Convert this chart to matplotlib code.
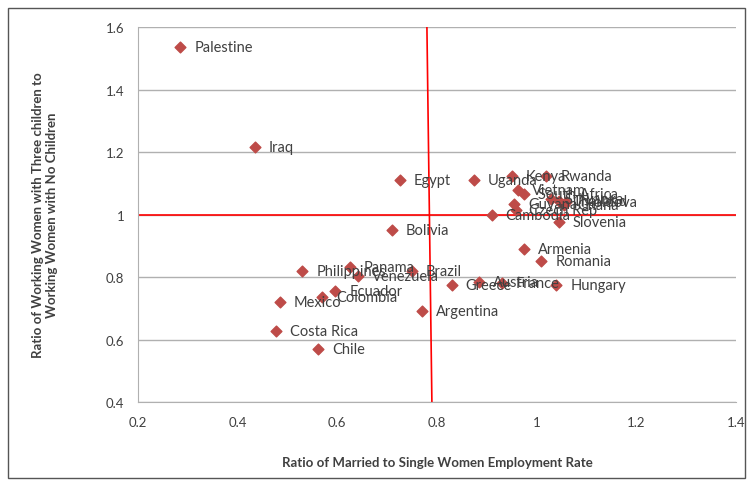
import matplotlib.pyplot as plt
from matplotlib.patches import Rectangle

plt.rcParams['font.family'] = ['Lato', 'DejaVu Sans']

# 国家及其数值
countries = ['Palestine', 'Iraq', 'Egypt', 'Uganda', 'Kenya', 'Rwanda', 'Vietnam',
             'South Africa', 'Sri Lanka', 'Thailand', 'Moldova', 'Guyana', 'Czech Rep',
             'Ghana', 'Cambodia', 'Slovenia', 'Bolivia', 'Armenia', 'Romania',
             'Philippines', 'Panama', 'Venezuela', 'Brazil', 'Greece', 'Austria',
             'France', 'Hungary', 'Ecuador', 'Colombia', 'Mexico', 'Argentina',
             'Costa Rica', 'Chile']
x_ratio = [0.285, 0.435, 0.725, 0.875, 0.95, 1.02, 0.962,
           0.975, 1.03, 1.045, 1.06, 0.955, 0.958,
           1.055, 0.91, 1.045, 0.71, 0.975, 1.01,
           0.53, 0.626, 0.642, 0.75, 0.83, 0.885,
           0.93, 1.04, 0.596, 0.57, 0.485, 0.77,
           0.477, 0.562]
y_ratio = [1.535, 1.215, 1.11, 1.11, 1.125, 1.125, 1.08,
           1.065, 1.05, 1.045, 1.04, 1.035, 1.015,
           1.03, 1.0, 0.975, 0.95, 0.89, 0.85,
           0.82, 0.832, 0.803, 0.82, 0.775, 0.785,
           0.78, 0.775, 0.755, 0.736, 0.72, 0.69,
           0.627, 0.57]

# 参考线
vline_x = [0.78, 0.79]
vline_y = [1.6, 0.4]
hline_y = 1.0

fig = plt.figure(figsize=(7.5, 4.85), dpi=100)
ax = fig.add_axes([0.184, 0.169, 0.797, 0.773])

# 外框
fig.patches.append(Rectangle((0.011, 0.012), 0.982, 0.97, transform=fig.transFigure,
                             fill=False, edgecolor='#555555', linewidth=1.0))

ax.set_xlim(0.2, 1.4)
ax.set_ylim(0.4, 1.6)
ax.set_xticks([0.2, 0.4, 0.6, 0.8, 1.0, 1.2, 1.4])
ax.set_xticklabels(['0.2', '0.4', '0.6', '0.8', '1', '1.2', '1.4'])
ax.set_yticks([0.4, 0.6, 0.8, 1.0, 1.2, 1.4, 1.6])
ax.set_yticklabels(['0.4', '0.6', '0.8', '1', '1.2', '1.4', '1.6'])
ax.grid(axis='y', color='#b0b0b0', linewidth=1)
ax.set_axisbelow(True)
for s in ['top', 'right']:
    ax.spines[s].set_visible(False)
ax.spines['left'].set_color('#b0b0b0')
ax.spines['bottom'].set_color('#b0b0b0')
ax.tick_params(length=0, labelsize=9.5, colors='#404040', pad=10)

ax.plot(vline_x, vline_y, color='red', linewidth=1.2, zorder=2)
ax.axhline(hline_y, color='red', linewidth=1.2, zorder=2)

ax.scatter(x_ratio, y_ratio, marker='D', s=30, color='#BE4B48', zorder=3)
for name, xv, yv in zip(countries, x_ratio, y_ratio):
    ax.annotate(name, (xv, yv), xytext=(10, 0), textcoords='offset points',
                va='center', ha='left', fontsize=10.5, color='#404040', zorder=4)

ax.set_xlabel('Ratio of Married to Single Women Employment Rate', fontsize=9.5,
              fontweight='bold', color='#404040', labelpad=20)
ax.set_ylabel('Ratio of Working Women with Three children to\nWorking Women with No Children',
              fontsize=9.5, fontweight='bold', color='#404040', labelpad=34)

fig.savefig('out.png', dpi=100)
